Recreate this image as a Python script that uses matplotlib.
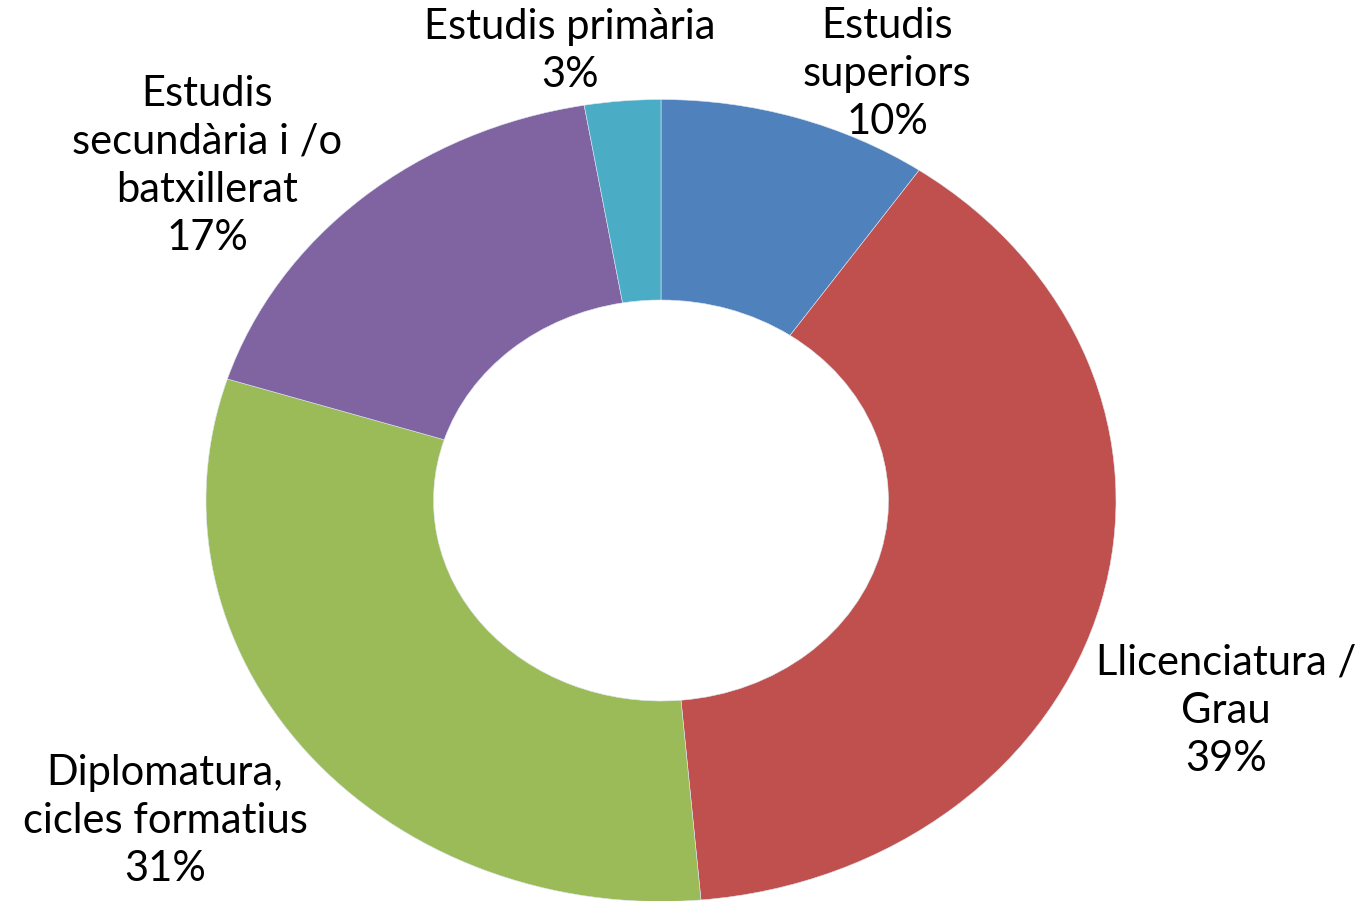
import matplotlib
matplotlib.use("Agg")
import matplotlib.pyplot as plt

categories = ["Estudis\nsuperiors", "Llicenciatura /\nGrau", "Diplomatura,\ncicles formatius",
              "Estudis\nsecundària i /o\nbatxillerat", "Estudis primària"]
values = [9.6, 39.0, 31.3, 17.4, 2.7]
colors = ["#4F81BD", "#C0504D", "#9BBB59", "#8064A2", "#4BACC6"]

W, H = 1367, 901
cx, cy = 661, 500.5
rx, ry = 455, 401

fig = plt.figure(figsize=(W / 100, H / 100), dpi=100)
ax = fig.add_axes([0, 0, 1, 1])
ax.pie(values, colors=colors, startangle=90, counterclock=False, radius=1,
       wedgeprops=dict(width=0.5, edgecolor="#dde6f0", linewidth=0.4))
ax.set_aspect("auto")
ax.set_xlim(-cx / rx, (W - cx) / rx)
ax.set_ylim(-(H - cy) / ry, cy / ry)
ax.axis("off")

# label centers in pixels
label_px = [(887, 74), (1226, 711), (165, 821), (207, 166), (570, 51)]
total = sum(values)
for cat, v, (px, py) in zip(categories, values, label_px):
    ax.text((px - cx) / rx, (cy - py) / ry, f"{cat}\n{round(v / total * 100):.0f}%",
            ha="center", va="center", fontsize=30, family="Lato",
            linespacing=1.33, color="black")

fig.savefig("out.png", dpi=100)
